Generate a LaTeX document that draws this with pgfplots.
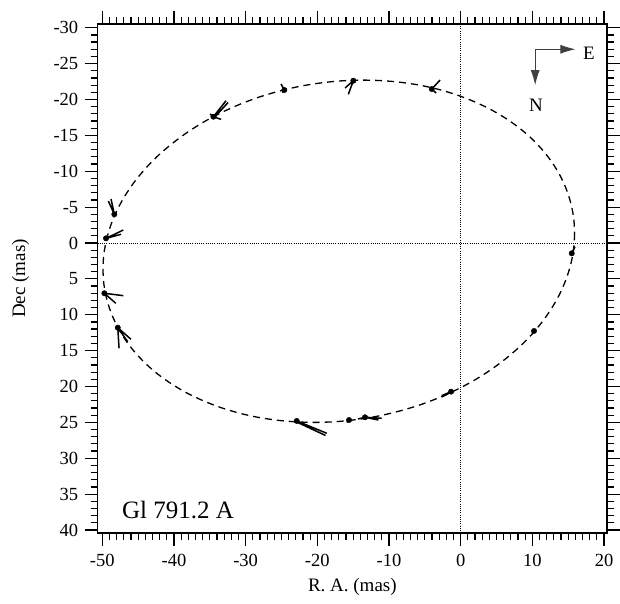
\documentclass[border=0pt]{standalone}
\usepackage{fontspec}
\setmainfont{Liberation Serif}
\usepackage{pgfplots}
\pgfplotsset{compat=1.18}
\usetikzlibrary{arrows.meta}

\begin{document}
\begin{tikzpicture}
\useasboundingbox (-97.7pt,-70pt) rectangle (522.3pt,533pt);
\begin{axis}[
  name=ax, at={(0,0)}, anchor=south west,
  scale only axis, width=509.3pt, height=509pt,
  xmin=-50.64, xmax=20.42, ymin=-30.52, ymax=40.42,
  y dir=reverse,
  xtick={-50,-40,...,20}, minor x tick num=9,
  ytick={-30,-25,...,40}, minor y tick num=4,
  tick pos=both, tick align=outside,
  major tick length=13pt, minor tick length=7pt,
  every tick/.style={black, line width=1.2pt},
  axis line style={line width=1.3pt},
  /pgf/number format/assume math mode=true,
  ticklabel style={font=\fontsize{18.5}{20}\selectfont},
  xticklabel style={yshift=-5pt},
  yticklabel style={xshift=-3pt},
  xlabel={R. A. (mas)},
  xlabel style={at={(axis description cs:0.5,-0.1062)}, anchor=center, font=\fontsize{19}{22}\selectfont},
  ylabel={Dec (mas)},
  ylabel style={at={(axis description cs:-0.1516,0.5)}, anchor=center, font=\fontsize{19}{22}\selectfont},
]
% reference lines through the origin
\addplot[black, line width=0.8pt, dash pattern=on 1pt off 1.2pt] coordinates {(-50.64,0) (20.42,0)};
\addplot[black, line width=0.8pt, dash pattern=on 1pt off 1.2pt] coordinates {(0,-30.52) (0,40.42)};

% fitted orbit
\addplot[black, line width=1.3pt, dash pattern=on 7pt off 5pt, smooth] coordinates {
(15.90,-1.35) (15.78,0.73) (15.40,2.81) (14.78,4.87) (13.92,6.91) (12.82,8.90)
(11.49,10.85) (9.95,12.71) (8.20,14.49) (6.26,16.15) (4.15,17.71) (1.87,19.15)
(-0.55,20.44) (-3.10,21.59) (-5.75,22.59) (-8.49,23.41) (-11.29,24.08) (-14.13,24.56)
(-17.00,24.87) (-19.87,25.00) (-22.71,24.94) (-25.52,24.71) (-28.25,24.30) (-30.90,23.71)
(-33.45,22.94) (-35.87,22.01) (-38.15,20.93) (-40.26,19.69) (-42.20,18.32) (-43.95,16.81)
(-45.49,15.18) (-46.82,13.44) (-47.92,11.61) (-48.78,9.70) (-49.40,7.73) (-49.78,5.71)
(-49.90,3.65) (-49.78,1.57) (-49.40,-0.51) (-48.78,-2.57) (-47.92,-4.61) (-46.82,-6.60)
(-45.49,-8.55) (-43.95,-10.41) (-42.20,-12.19) (-40.26,-13.85) (-38.15,-15.41) (-35.87,-16.85)
(-33.45,-18.14) (-30.90,-19.29) (-28.25,-20.29) (-25.52,-21.11) (-22.71,-21.78) (-19.87,-22.26)
(-17.00,-22.57) (-14.13,-22.70) (-11.29,-22.64) (-8.49,-22.41) (-5.75,-22.00) (-3.10,-21.41)
(-0.55,-20.64) (1.87,-19.71) (4.15,-18.63) (6.26,-17.39) (8.20,-16.02) (9.95,-14.51)
(11.49,-12.88) (12.82,-11.14) (13.92,-9.31) (14.78,-7.40) (15.40,-5.43) (15.78,-3.41)
(15.90,-1.35)};

% residual segments
\addplot[black, line width=1.5pt, unbounded coords=jump] coordinates {
(-14.97,-22.62) (-15.67,-20.72) (nan,nan) (-14.97,-22.62) (-16.13,-21.60) (nan,nan)
(-4.03,-21.46) (-2.87,-22.71) (nan,nan) (-4.03,-21.46) (-3.43,-20.90) (nan,nan)
(-24.60,-21.32) (-25.06,-22.16) (nan,nan) (-24.60,-21.32) (-24.88,-20.95) (nan,nan)
(-34.50,-17.60) (-32.73,-19.83) (nan,nan) (-34.40,-17.45) (-32.45,-19.58) (nan,nan)
(-34.50,-17.60) (-33.43,-17.23) (nan,nan) (-34.50,-17.60) (-34.96,-17.98) (nan,nan)
(-48.32,-4.00) (-49.16,-5.85) (nan,nan) (-48.32,-4.00) (-48.78,-6.13) (nan,nan)
(-49.48,-0.65) (-47.06,-1.81) (nan,nan) (-49.48,-0.65) (-47.38,-1.21) (nan,nan)
(-49.71,7.01) (-47.06,7.34) (nan,nan) (-49.71,7.01) (-48.12,8.40) (nan,nan)
(-47.84,11.80) (-47.66,14.67) (nan,nan) (-47.84,11.80) (-46.00,13.42) (nan,nan)
(-47.84,11.80) (-46.45,13.76) (nan,nan)
(-22.87,24.80) (-18.68,26.52) (nan,nan) (-22.87,24.95) (-18.85,26.83) (nan,nan)
(-15.57,24.67) (-15.89,24.99) (nan,nan)
(-13.34,24.29) (-11.01,24.43) (nan,nan) (-13.34,24.29) (-11.48,24.67) (nan,nan)
(-13.34,24.29) (-14.32,24.53) (nan,nan)
(-1.34,20.72) (-2.64,21.28) (nan,nan) (-1.34,20.80) (-2.64,21.46) (nan,nan)
(10.24,12.26) (9.96,12.54) (nan,nan)
(15.50,1.44) (15.96,0.52)};

% observed epochs
\addplot[only marks, mark=*, mark size=2.7pt, black] coordinates {
(-14.97,-22.62) (-4.03,-21.46) (-24.60,-21.32) (-34.50,-17.60) (-48.32,-4.00)
(-49.48,-0.65) (-49.71,7.01) (-47.84,11.80) (-22.87,24.80) (-15.57,24.67)
(-13.34,24.29) (-1.34,20.72) (10.24,12.26) (15.50,1.44)};

% compass
\draw[black!75, line width=1pt, -{Latex[length=15pt,width=9pt]}] (axis cs:10.4,-27.0) -- (axis cs:16.02,-27.0);
\draw[black!75, line width=1pt, -{Latex[length=15pt,width=9pt]}] (axis cs:10.4,-27.0) -- (axis cs:10.4,-22.0);
\node[font=\fontsize{19}{22}\selectfont] at (axis cs:17.9,-26.4) {E};
\node[font=\fontsize{19}{22}\selectfont] at (axis cs:10.5,-19.2) {N};

\node[anchor=base west, inner sep=0pt, font=\fontsize{25}{28}\selectfont] at (axis cs:-47.25,38.46) {Gl 791.2 A};
\end{axis}
\end{tikzpicture}
\end{document}
